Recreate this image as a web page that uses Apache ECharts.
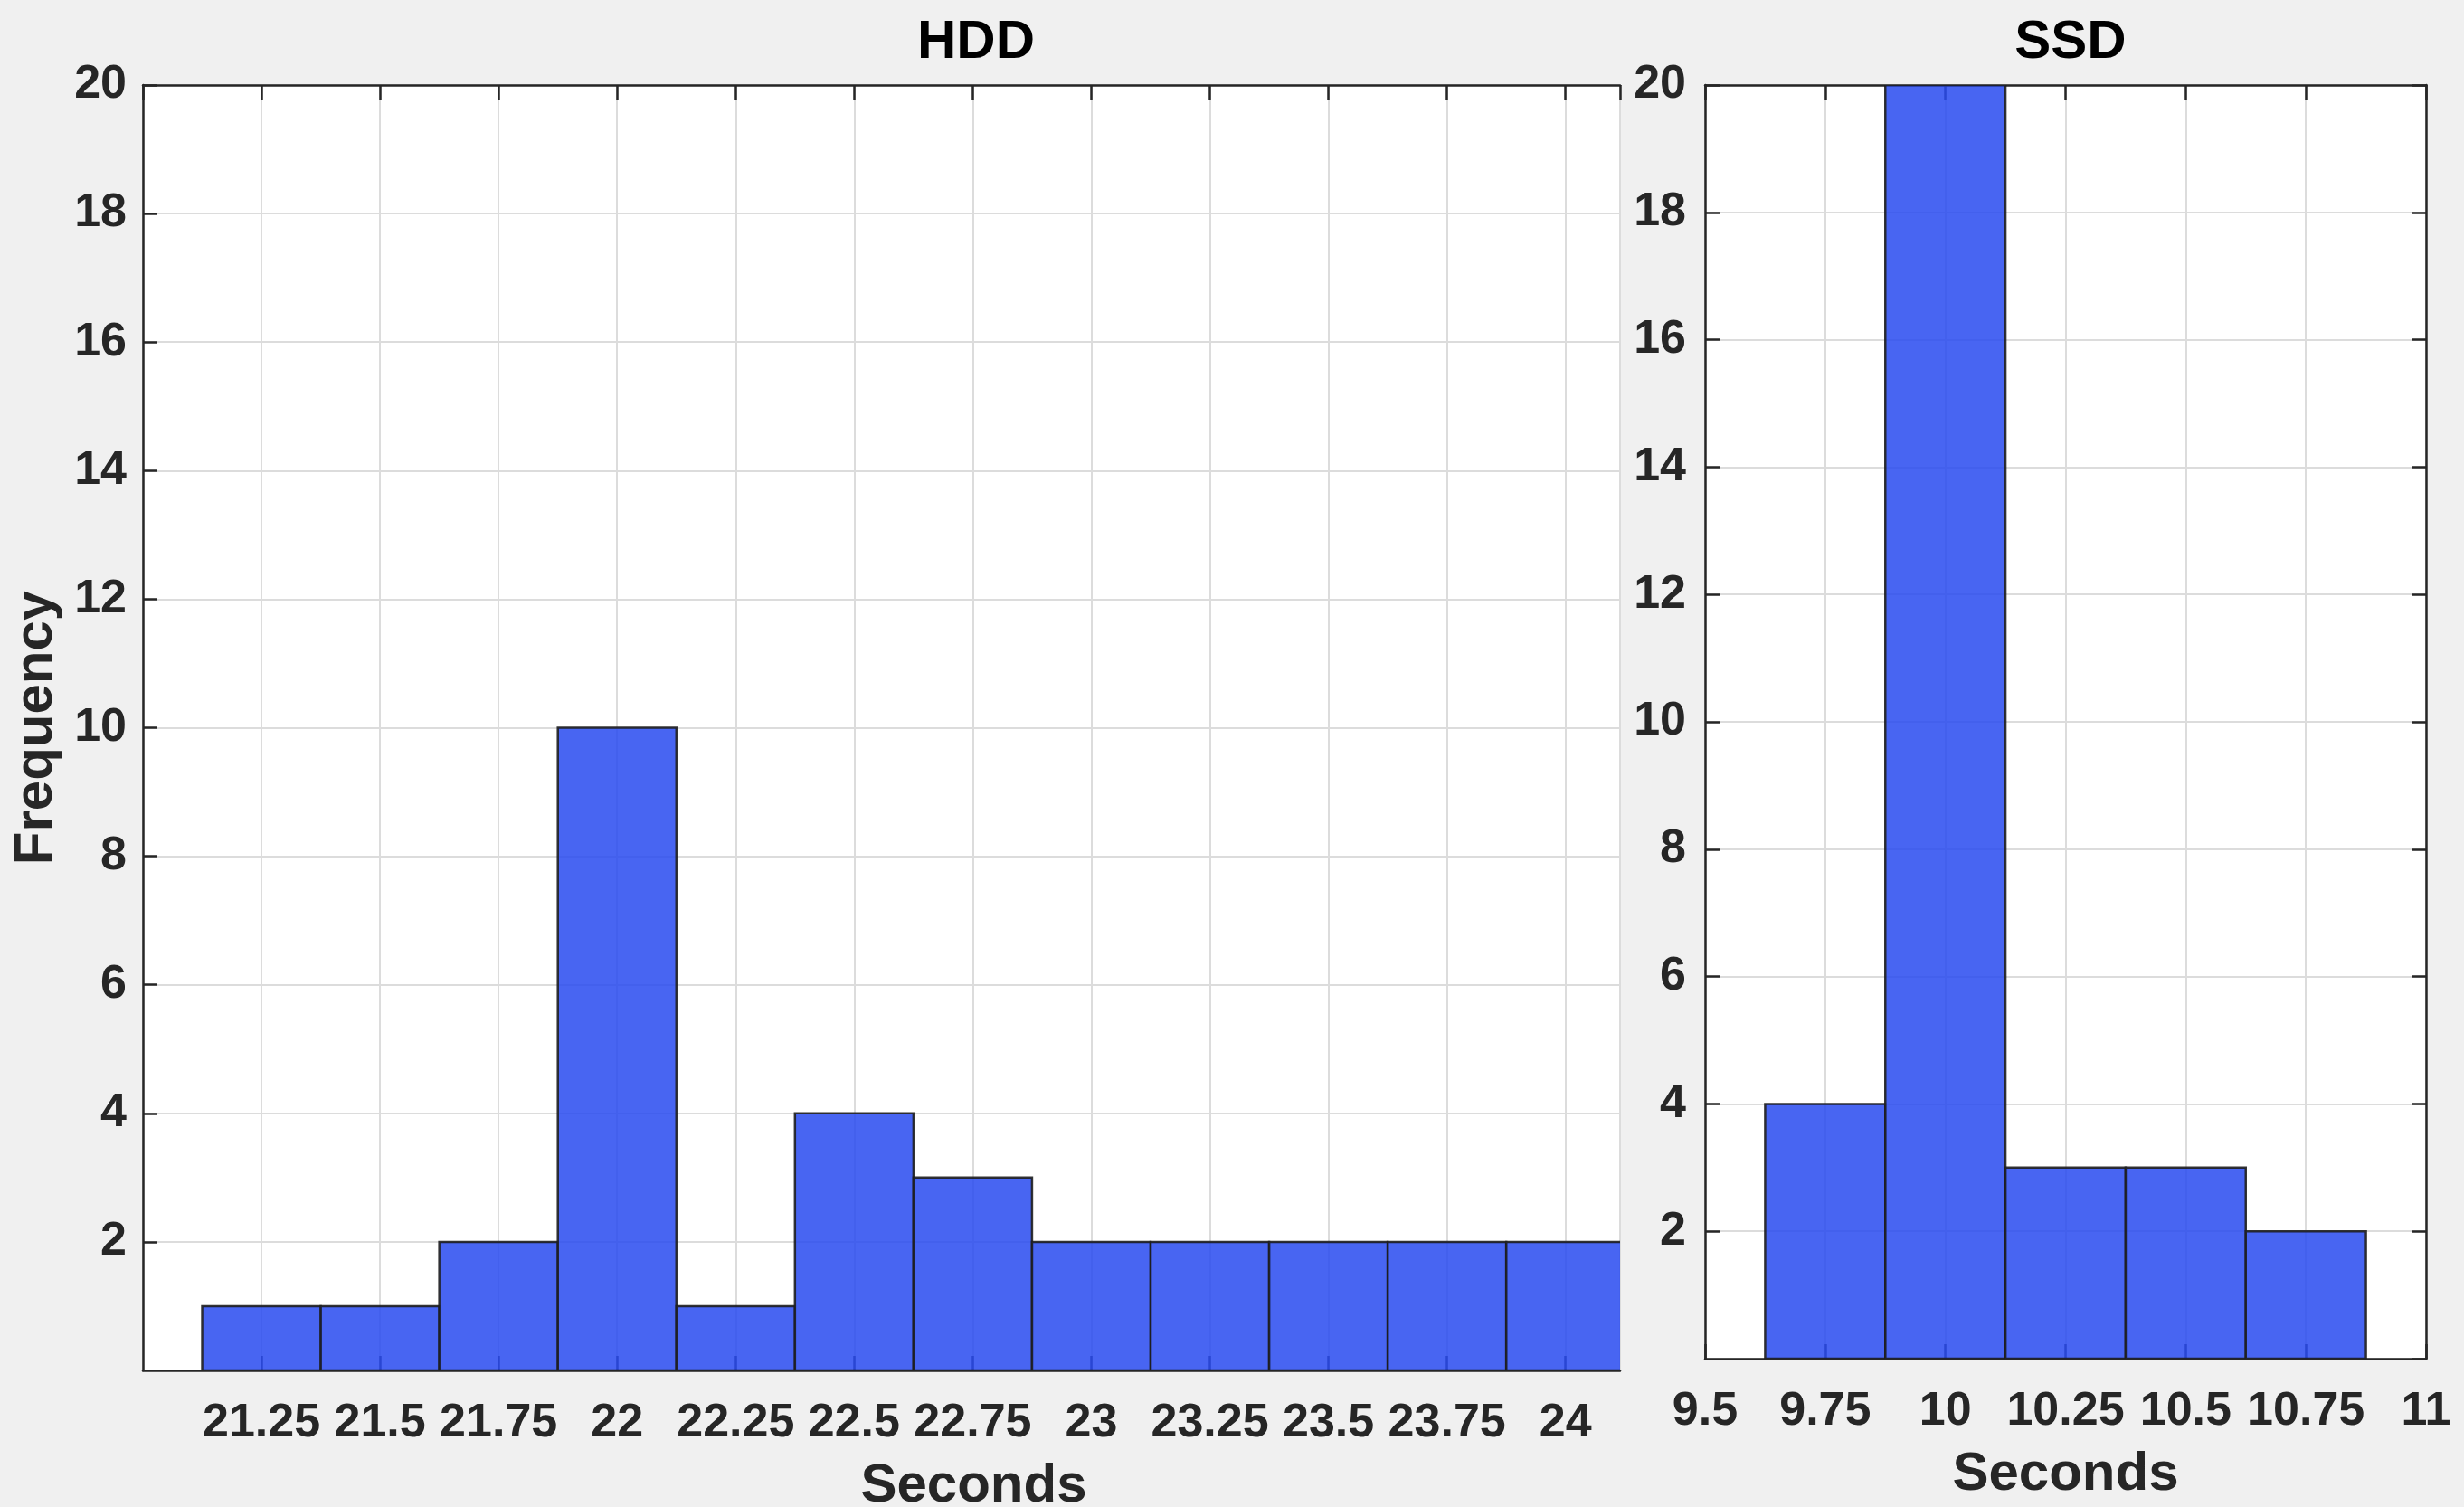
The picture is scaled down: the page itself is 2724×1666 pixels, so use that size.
<!DOCTYPE html>
<html>
<head>
<meta charset="utf-8">
<script src="https://cdn.jsdelivr.net/npm/echarts@6/dist/echarts.min.js"></script>
<style>
html,body{margin:0;padding:0;background:#f0f0f0;}
#chart{width:2724px;height:1666px;}
</style>
</head>
<body>
<div id="chart"></div>
<script>
// ---- data ----
const hddBinCenters = [21.25, 21.5, 21.75, 22, 22.25, 22.5, 22.75, 23, 23.25, 23.5, 23.75, 24];
const hddCounts     = [1, 1, 2, 10, 1, 4, 3, 2, 2, 2, 2, 2];
const ssdBinCenters = [9.75, 10, 10.25, 10.5, 10.75];
const ssdCounts     = [4, 20, 3, 3, 2];
const binWidth = 0.25;
const titles = ['HDD', 'SSD'];
const xName = 'Seconds';
const yName = 'Frequency';

// ---- style ----
const FONT = '"Liberation Sans", Arial, Helvetica, sans-serif';
const AX = '#262626';
const GRIDC = '#dcdcdc';

const chart = echarts.init(document.getElementById('chart'), null, {renderer: 'canvas'});

function histItem(params, api) {
  const x = api.value(0), y = api.value(1);
  const p0 = api.coord([x - binWidth / 2, y]);
  const p1 = api.coord([x + binWidth / 2, 0]);
  return {
    type: 'rect',
    shape: {x: p0[0], y: p0[1], width: p1[0] - p0[0], height: p1[1] - p0[1]},
    style: {fill: 'rgba(42,76,240,0.86)', stroke: 'rgba(30,30,30,0.9)', lineWidth: 2.5}
  };
}

function xAxisCfg(grid, min, max, pos, main, namePadLeft) {
  return {
    type: 'value', gridIndex: grid, position: pos, min: min, max: max, interval: 0.25,
    axisLine: {show: true, onZero: false, lineStyle: {color: AX, width: 2.5}},
    axisTick: {show: true, inside: true, length: 16, lineStyle: {color: AX, width: 2.5}},
    axisLabel: main ? {show: true, margin: 33, color: AX, fontFamily: FONT, fontWeight: 'bold', fontSize: 52,
      showMinLabel: grid === 1, showMaxLabel: grid === 1} : {show: false},
    splitLine: main ? {show: true, lineStyle: {color: GRIDC, width: 2}} : {show: false},
    name: main ? xName : '', nameLocation: 'middle', nameGap: 98,
    nameTextStyle: {color: AX, fontFamily: FONT, fontWeight: 'bold', fontSize: 60,
      padding: [0, 0, 0, namePadLeft || 0]}
  };
}
function yAxisCfg(grid, pos, main, margin, showName) {
  return {
    type: 'value', gridIndex: grid, position: pos, min: 0, max: 20, interval: 2,
    axisLine: {show: true, onZero: false, lineStyle: {color: AX, width: 2.5}},
    axisTick: {show: true, inside: true, length: 16, lineStyle: {color: AX, width: 2.5}},
    axisLabel: main ? {show: true, margin: margin, color: AX, fontFamily: FONT, fontWeight: 'bold', fontSize: 52, showMinLabel: false} : {show: false},
    splitLine: main ? {show: true, lineStyle: {color: GRIDC, width: 2}} : {show: false},
    name: showName ? yName : '', nameLocation: 'middle', nameGap: 88,
    nameTextStyle: {color: AX, fontFamily: FONT, fontWeight: 'bold', fontSize: 60}
  };
}

const option = {
  backgroundColor: '#f0f0f0',
  animation: false,
  title: [
    {text: titles[0], left: 1074, top: 12, textAlign: 'center',
     textStyle: {fontFamily: FONT, fontWeight: 'bold', fontSize: 60, color: '#000'}},
    {text: titles[1], left: 2284, top: 12, textAlign: 'center',
     textStyle: {fontFamily: FONT, fontWeight: 'bold', fontSize: 60, color: '#000'}}
  ],
  grid: [
    {left: 158, top: 94, width: 1633, height: 1421, show: true, backgroundColor: '#fff', borderWidth: 0,
     outerBoundsMode: 'none', containLabel: false},
    {left: 1885, top: 94, width: 797, height: 1408, show: true, backgroundColor: '#fff', borderWidth: 0,
     outerBoundsMode: 'none', containLabel: false}
  ],
  xAxis: [
    xAxisCfg(0, 21, 24.115, 'bottom', true, 204),
    xAxisCfg(0, 21, 24.115, 'top', false),
    xAxisCfg(1, 9.5, 11, 'bottom', true, 0),
    xAxisCfg(1, 9.5, 11, 'top', false)
  ],
  yAxis: [
    yAxisCfg(0, 'left', true, 18, true),
    yAxisCfg(1, 'left', true, 21, false),
    yAxisCfg(1, 'right', false, 0, false)
  ],
  series: [
    {type: 'custom', name: titles[0], xAxisIndex: 0, yAxisIndex: 0, clip: true, renderItem: histItem,
     data: hddBinCenters.map((c, i) => [c, hddCounts[i]])},
    {type: 'custom', name: titles[1], xAxisIndex: 2, yAxisIndex: 1, clip: true, renderItem: histItem,
     data: ssdBinCenters.map((c, i) => [c, ssdCounts[i]])}
  ]
};
chart.setOption(option);
</script>
</body>
</html>
